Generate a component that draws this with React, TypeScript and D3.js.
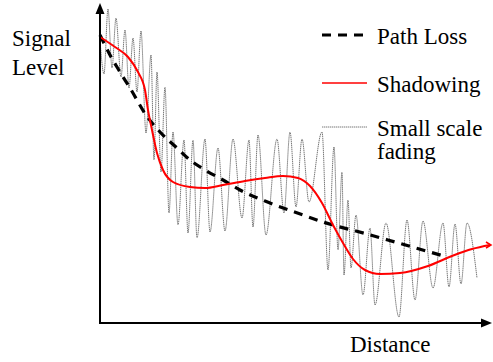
import * as React from "react";
import * as d3 from "d3";

// distance / level in arbitrary units (level measured up from the x axis)
const pathLoss: [number, number][] = [
  [0, 288], [10, 268], [20, 251], [30, 235], [46, 208], [60, 191], [77, 175],
  [90, 163], [105, 153], [123, 143], [140, 133], [170, 120], [203, 108],
  [223, 101], [267, 89], [295, 81], [347, 66],
];

const shadowing: [number, number][] = [
  [0, 286], [15, 276], [28, 266], [38, 251], [45, 233], [48, 213], [52, 193],
  [57, 170], [63, 153], [73, 141], [90, 136], [105, 135], [123, 138], [145, 142],
  [165, 145], [183, 147], [198, 145], [210, 137], [222, 120], [233, 98],
  [243, 80], [253, 64], [265, 53], [280, 49], [300, 50], [328, 57], [352, 67],
  [372, 74], [390, 78],
];

// peaks and troughs of the fast fading trace
const fading: [number, number][] = [
  [0, 283], [4, 249], [8, 314], [12, 255], [16, 305], [21, 246], [25, 293],
  [29, 235], [33, 285], [37, 231], [41, 292], [46, 190], [51, 268], [54, 163],
  [57, 251], [61, 151], [65, 236], [69, 110], [73, 191], [78, 98], [84, 183],
  [88, 90], [93, 183], [97, 85], [105, 184], [110, 91], [118, 175], [125, 92],
  [133, 184], [142, 105], [149, 183], [153, 96], [158, 188], [166, 88],
  [177, 184], [184, 110], [190, 191], [196, 116], [202, 184], [209, 121],
  [222, 191], [228, 53], [234, 176], [238, 73], [242, 151], [244, 48],
  [248, 123], [251, 55], [256, 108], [263, 28], [270, 95], [275, 18],
  [286, 100], [299, 6], [307, 103], [315, 23], [323, 102], [333, 35],
  [343, 100], [349, 36], [355, 99], [361, 39], [367, 100], [377, 45],
];

const legendItems = [
  { key: "pl", label: ["Path Loss"] },
  { key: "sh", label: ["Shadowing"] },
  { key: "ss", label: ["Small scale", "fading"] },
];

const W = 493;
const H = 362;
const FONT = "'Times New Roman', 'Liberation Serif', 'DejaVu Serif', serif";
const FADE = "#555";

export default function App() {
  const x = d3.scaleLinear().domain([0, 390]).range([100, 490]);
  const y = d3.scaleLinear().domain([0, 318]).range([323, 5]);

  const line = d3
    .line<[number, number]>()
    .x((d) => x(d[0]))
    .y((d) => y(d[1]))
    .curve(d3.curveMonotoneX);

  const x0 = x(0);
  const y0 = y(0);
  const xEnd = x(392);
  const yTop = y(320);

  const legendX = 322;
  const legendRows = [35, 83, 127];

  return (
    <svg
      width={W}
      height={H}
      viewBox={`0 0 ${W} ${H}`}
      style={{ position: "absolute", left: 0, top: 0, background: "#fff" }}
    >
      <path
        d={line(fading) ?? ""}
        fill="none"
        stroke={FADE}
        strokeWidth="0.8"
        strokeDasharray="1.4 0.6"
      />
      <path
        d={line(pathLoss) ?? ""}
        fill="none"
        stroke="#000"
        strokeWidth="3.2"
        strokeDasharray="9 7"
      />
      <path d={line(shadowing) ?? ""} fill="none" stroke="#f00" strokeWidth="2" />
      <path
        d={`M${x(390) - 4},${y(78) - 3}L${x(390) + 1},${y(78)}L${x(390) - 4},${y(78) + 3}`}
        fill="none"
        stroke="#f00"
        strokeWidth="1.5"
      />

      {/* axes */}
      <line x1={x0} y1={y0} x2={x0} y2={yTop + 8} stroke="#000" strokeWidth="2" />
      <path d={`M${x0},${yTop}L${x0 - 4.5},${yTop + 11}L${x0 + 4.5},${yTop + 11}Z`} fill="#000" />
      <line x1={x0 - 1} y1={y0} x2={xEnd - 8} y2={y0} stroke="#000" strokeWidth="2" />
      <path d={`M${xEnd},${y0}L${xEnd - 11},${y0 - 4.5}L${xEnd - 11},${y0 + 4.5}Z`} fill="#000" />

      <text x={12} y={46} fontFamily={FONT} fontSize="23" fill="#000">Signal</text>
      <text x={12} y={75} fontFamily={FONT} fontSize="23" fill="#000">Level</text>
      <text x={350} y={352} fontFamily={FONT} fontSize="23" fill="#000">Distance</text>

      {/* legend */}
      <line x1={legendX} y1={legendRows[0]} x2={legendX + 46} y2={legendRows[0]} stroke="#000" strokeWidth="3" strokeDasharray="9 7" />
      <line x1={legendX} y1={legendRows[1]} x2={legendX + 45} y2={legendRows[1]} stroke="#f00" strokeWidth="1.5" />
      <line x1={legendX} y1={legendRows[2]} x2={legendX + 45} y2={legendRows[2]} stroke={FADE} strokeWidth="0.8" strokeDasharray="1.4 0.6" />
      {legendItems.map((item, i) => (
        <text key={item.key} x={377} y={legendRows[i] + 9} fontFamily={FONT} fontSize="23" fill="#000">
          {item.label.map((l, j) => (
            <tspan key={l} x={377} dy={j === 0 ? 0 : 23}>{l}</tspan>
          ))}
        </text>
      ))}
    </svg>
  );
}
